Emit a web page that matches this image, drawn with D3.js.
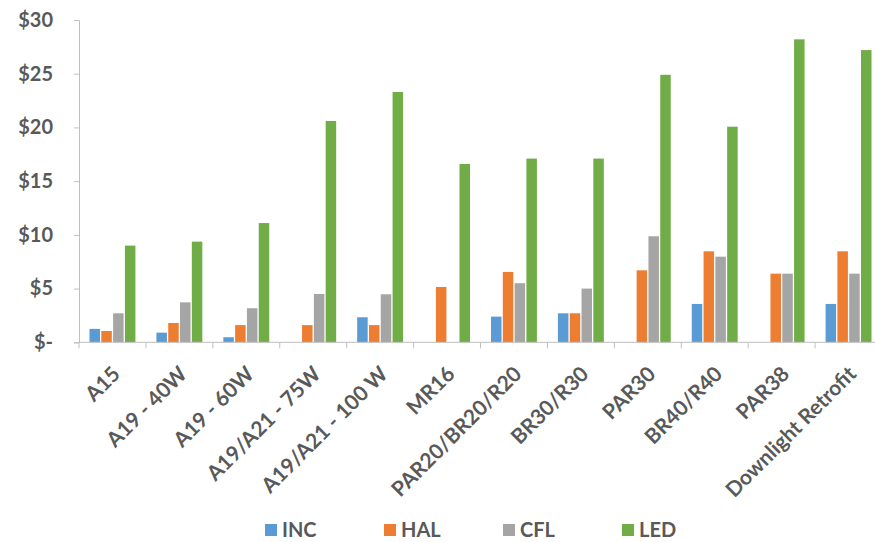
<!DOCTYPE html>
<html>
<head>
<meta charset="utf-8">
<script src="https://cdn.jsdelivr.net/npm/d3@7"></script>
<style>
  html, body { margin: 0; padding: 0; background: #fff; }
  svg { display: block; }
  text { font-family: Lato, "Open Sans", sans-serif; fill: #595959; font-weight: 700; }
</style>
</head>
<body>
<svg id="chart" width="875" height="542"></svg>
<script>
// Lamp types along the x axis
const categories = ["A15", "A19 - 40W", "A19 - 60W", "A19/A21 - 75W", "A19/A21 - 100 W",
  "MR16", "PAR20/BR20/R20", "BR30/R30", "PAR30", "BR40/R40", "PAR38", "Downlight Retrofit"];

// Technologies (series)
const seriesNames = ["INC", "HAL", "CFL", "LED"];
const seriesColors = ["#5B9BD5", "#ED7D31", "#A5A5A5", "#70AD47"];

// Price per lamp, in dollars
const incValues = [1.25, 0.9, 0.47, 0, 2.33, 0, 2.39, 2.7, 0, 3.57, 0, 3.57];
const halValues = [1.05, 1.8, 1.6, 1.6, 1.6, 5.15, 6.55, 2.7, 6.7, 8.47, 6.39, 8.47];
const cflValues = [2.7, 3.72, 3.17, 4.5, 4.47, 0, 5.5, 5.0, 9.87, 7.97, 6.39, 6.39];
const ledValues = [9.0, 9.37, 11.1, 20.6, 23.3, 16.6, 17.1, 17.1, 24.9, 20.07, 28.2, 27.2];

const yTicks = [0, 5, 10, 15, 20, 25, 30];
const yTickLabels = ["$-", "$5", "$10", "$15", "$20", "$25", "$30"];

const seriesValues = [incValues, halValues, cflValues, ledValues];
const rows = categories.map((c, i) => ({
  category: c,
  values: seriesNames.map((s, j) => ({ series: s, value: seriesValues[j][i], color: seriesColors[j] }))
}));

const svg = d3.select("#chart");
const axisColor = "#BFBFBF";
const fontStack = "Lato, 'Open Sans', sans-serif";

const x0 = d3.scaleBand().domain(categories).range([79, 882]).padding(0);
const x1 = d3.scaleBand().domain(seriesNames)
  .range([0, x0.bandwidth()]).paddingInner(0.11).paddingOuter(0.89);
const y = d3.scaleLinear().domain([0, 30]).range([342.3, 20]);

// Y axis
const yAxis = svg.append("g").attr("transform", "translate(79,0)")
  .call(d3.axisLeft(y).tickValues(yTicks).tickSize(5).tickPadding(21)
    .tickFormat((d, i) => yTickLabels[i]));
yAxis.select(".domain").attr("stroke", axisColor);
yAxis.selectAll(".tick line").attr("stroke", axisColor);
yAxis.selectAll(".tick text").attr("font-size", 20).attr("fill", "#595959")
  .style("font-family", fontStack).style("font-weight", 700);

// Bars
const groups = svg.append("g").selectAll("g").data(rows).join("g")
  .attr("transform", d => `translate(${x0(d.category)},0)`);
groups.selectAll("rect").data(d => d.values.filter(v => v.value > 0)).join("rect")
  .attr("x", d => x1(d.series))
  .attr("width", x1.bandwidth())
  .attr("y", d => y(d.value))
  .attr("height", d => y(0) - y(d.value))
  .attr("fill", d => d.color);

// X axis: baseline with ticks at category boundaries
const xAxisG = svg.append("g").attr("transform", `translate(0,${y(0)})`);
xAxisG.append("line").attr("x1", 79).attr("x2", 882).attr("y1", 0).attr("y2", 0)
  .attr("stroke", axisColor);
const boundaries = categories.map(c => x0(c));
xAxisG.selectAll("line.tick").data(boundaries).join("line").attr("class", "tick")
  .attr("x1", d => d).attr("x2", d => d).attr("y1", 0).attr("y2", 6)
  .attr("stroke", axisColor);

// Rotated category labels
xAxisG.selectAll("text").data(categories).join("text")
  .attr("text-anchor", "end")
  .attr("font-size", 21)
  .attr("transform", d => `translate(${x0(d) + x0.bandwidth() / 2 + 9},${33}) rotate(-45)`)
  .text(d => d);

// Legend
const legend = svg.append("g").attr("transform", "translate(265,530)");
const item = legend.selectAll("g").data(seriesNames).join("g")
  .attr("transform", (d, i) => `translate(${i * 119},0)`);
item.append("rect").attr("x", 0).attr("y", -6).attr("width", 12).attr("height", 12)
  .attr("fill", (d, i) => seriesColors[i]);
item.append("text").attr("x", 17).attr("y", 0).attr("dy", "0.36em")
  .attr("font-size", 20).text(d => d);
</script>
</body>
</html>
